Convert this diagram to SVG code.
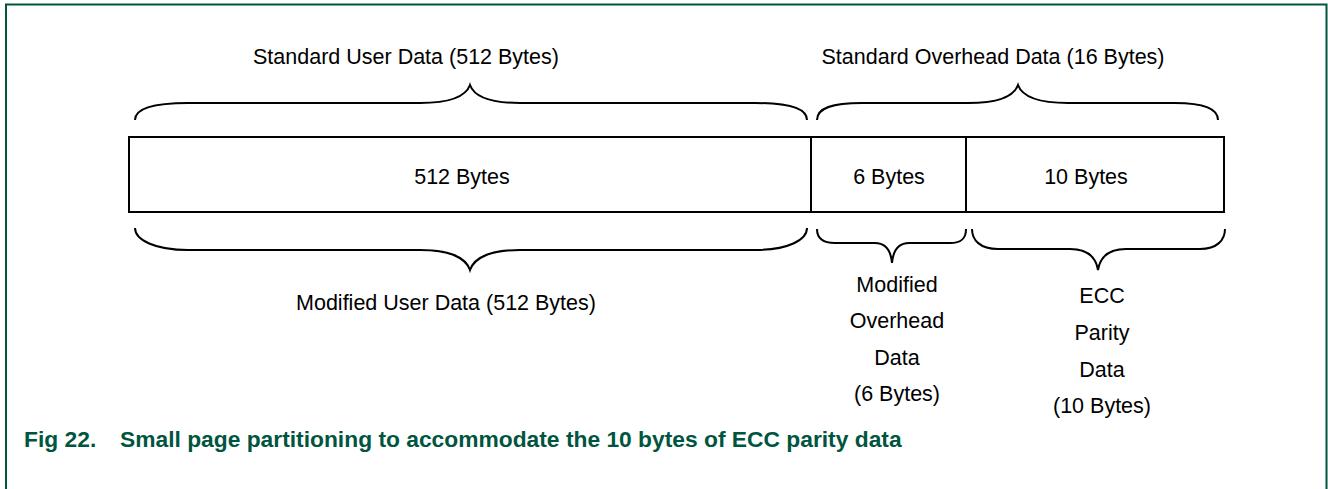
<svg xmlns="http://www.w3.org/2000/svg" width="1328" height="489" viewBox="0 0 1328 489">
<style>
.t{font-family:"Liberation Sans",Arial,sans-serif;font-size:21.5px;fill:#000;text-anchor:middle}
.b{fill:none;stroke:#000;stroke-width:2}
.cap{font-family:"Liberation Sans",Arial,sans-serif;font-size:22.8px;font-weight:bold;fill:#00553f}
</style>
<rect x="0" y="0" width="1328" height="489" fill="#fff"/>
<path d="M6,495 V4.5 H1326.5 V495" fill="none" stroke="#00553f" stroke-width="2"/>
<g id="labels-top">
<text class="t" x="406" y="64">Standard User Data (512 Bytes)</text>
<text class="t" x="993" y="64">Standard Overhead Data (16 Bytes)</text>
</g>
<g id="page">
<rect x="129" y="137" width="1095" height="75" fill="#fff" stroke="#000" stroke-width="2"/>
<line x1="811" y1="137" x2="811" y2="212" stroke="#000" stroke-width="2"/>
<line x1="966" y1="137" x2="966" y2="212" stroke="#000" stroke-width="2"/>
<text class="t" x="462" y="184">512 Bytes</text>
<text class="t" x="889" y="184">6 Bytes</text>
<text class="t" x="1086" y="184">10 Bytes</text>
</g>
<g id="connectors">
<path class="b" d="M135,120 C135,108 155,103 188,103 L420,103 C450,103 466,96 470,85 C474,96 490,103 520,103 L755,103 C788,103 807,108 807,120"/>
<path class="b" d="M817,120 C817,108 832,103 862,103 L968,103 C998,103 1014,96 1018,85 C1022,96 1038,103 1068,103 L1175,103 C1203,103 1218,108 1218,120"/>
<path class="b" d="M135,228 C135,240 155,250 188,250 L420,250 C450,250 466,258 470,270 C474,258 490,250 520,250 L755,250 C788,250 807,240 807,228"/>
<path class="b" d="M817,229 C817,238 822,243 835,243 L875,243 C887,243 891,252 892,263 C893,252 897,243 909,243 L950,243 C962,243 966,238 966,229"/>
<path class="b" d="M972,229 C972,240 980,249 998,249 L1070,249 C1088,249 1096,258 1098,270 C1100,258 1108,249 1126,249 L1200,249 C1217,249 1225,240 1225,229"/>
</g>
<g id="labels-bottom">
<text class="t" x="446" y="310">Modified User Data (512 Bytes)</text>
<text class="t" x="897" y="292">Modified</text>
<text class="t" x="897" y="328">Overhead</text>
<text class="t" x="897" y="365">Data</text>
<text class="t" x="897" y="401">(6 Bytes)</text>
<text class="t" x="1102" y="303">ECC</text>
<text class="t" x="1102" y="340">Parity</text>
<text class="t" x="1102" y="377">Data</text>
<text class="t" x="1102" y="413">(10 Bytes)</text>
</g>
<g id="caption">
<text class="cap" x="24" y="447">Fig 22.</text>
<text class="cap" x="120" y="447">Small page partitioning to accommodate the 10 bytes of ECC parity data</text>
</g>
</svg>
